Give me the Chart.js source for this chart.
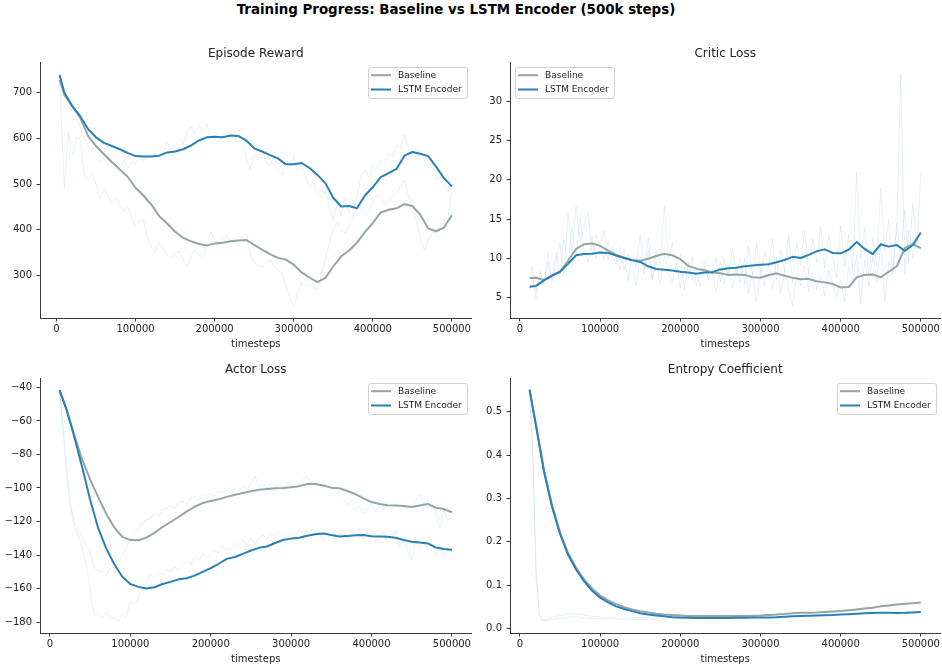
<!DOCTYPE html>
<html>
<head>
<meta charset="utf-8">
<script src="https://cdn.jsdelivr.net/npm/chart.js@4.4.1/dist/chart.umd.min.js"></script>
<style>
  html, body { margin: 0; padding: 0; background: #ffffff; }
  #page { position: relative; width: 942px; height: 667px; overflow: hidden; font-family: 'DejaVu Sans', sans-serif; }
  #suptitle { position: absolute; left: 0; top: 0; width: 912px; height: 20px; line-height: 20px; text-align: center;
              font-size: 13.4px; font-weight: bold; color: #000; }
  canvas { position: absolute; }
</style>
</head>
<body>
<div id="page">
  <div id="suptitle">Training Progress: Baseline vs LSTM Encoder (500k steps)</div>
  <canvas id="reward" width="490" height="312" style="left:0px;top:40px;"></canvas>
  <canvas id="critic" width="472" height="312" style="left:470px;top:40px;"></canvas>
  <canvas id="actor" width="490" height="311" style="left:0px;top:356px;"></canvas>
  <canvas id="entropy" width="472" height="311" style="left:470px;top:356px;"></canvas>
</div>
<script>
// ---- timestep grids (logging interval) ----
function stepGrid(first, start, step, end) {
  const s = [first];
  for (let t = start; t <= end; t += step) s.push(t);
  return s;
}
const rewardSmoothSteps = stepGrid(4000, 10000, 10000, 500000);
const rewardRawSteps = stepGrid(4000, 10000, 5000, 500000);
const lossSmoothSteps = stepGrid(12000, 20000, 10000, 500000);
const lossRawSteps = stepGrid(12000, 15000, 5000, 500000);
const entropyRawSteps = [12000, 16000, 20000, 24000, 28000, 32000, 40000, 50000, 60000, 70000, 80000, 90000,
  100000, 125000, 150000, 175000, 200000, 250000, 300000, 350000, 400000, 450000, 500000];

// ---- Episode Reward ----
const rewardLstmSmooth = [738, 700, 670, 648, 620, 602, 590, 583, 576, 568,
  561, 560, 560, 562, 569, 571, 576, 584, 595, 602,
  603, 602, 606, 605, 595, 578, 571, 563, 556, 543,
  543, 546, 535, 520, 502, 470, 451, 452, 447, 475,
  493, 515, 524, 533, 562, 570, 566, 561, 538, 513, 495];
const rewardBaseSmooth = [727, 695, 670, 645, 605, 583, 565, 548, 532, 516,
  492, 475, 455, 430, 414, 396, 383, 375, 369, 366,
  370, 372, 375, 377, 378, 367, 357, 347, 339, 335,
  324, 307, 296, 286, 295, 320, 342, 355, 372, 395,
  415, 438, 444, 447, 456, 452, 433, 403, 397, 405, 432];
const rewardLstmRaw = [740, 690, 675, 660, 645, 625, 600, 585, 572, 560,
  548, 556, 540, 558, 545, 535, 552, 532, 548, 545,
  560, 550, 566, 558, 572, 580, 568, 590, 578, 585,
  595, 588, 612, 625, 608, 630, 614, 632, 600, 604,
  612, 605, 618, 612, 608, 600, 590, 560, 532, 565,
  552, 575, 548, 540, 562, 528, 520, 545, 535, 560,
  530, 548, 515, 495, 505, 480, 470, 485, 445, 420,
  455, 430, 470, 435, 445, 470, 520, 530, 515, 540,
  530, 552, 545, 565, 560, 585, 575, 608, 578, 570,
  568, 575, 550, 535, 548, 510, 515, 498, 482, 500];
const rewardBaseRaw = [722, 492, 612, 565, 602, 598, 520, 508, 525, 500,
  468, 490, 475, 458, 470, 455, 440, 452, 428, 410,
  418, 422, 385, 362, 353, 372, 360, 345, 338, 348,
  353, 335, 322, 340, 358, 345, 342, 365, 396, 378,
  367, 380, 389, 376, 382, 375, 385, 393, 345, 330,
  322, 318, 330, 335, 320, 312, 306, 280, 255, 233,
  262, 284, 275, 280, 272, 269, 300, 335, 370, 400,
  415, 398, 393, 410, 429, 445, 451, 435, 440, 462,
  477, 470, 458, 465, 472, 480, 495, 509, 475, 451,
  420, 380, 357, 375, 393, 395, 407, 415, 429, 487];

// ---- Critic Loss ----
const criticLstmSmooth = [6.4, 6.5, 7.2, 7.8, 8.3, 9.3, 10.4, 10.55, 10.6, 10.75,
  10.7, 10.35, 10.05, 9.75, 9.55, 9.0, 8.65, 8.55, 8.45, 8.3,
  8.2, 8.05, 8.2, 8.25, 8.6, 8.75, 8.8, 9.0, 9.1, 9.2,
  9.25, 9.5, 9.8, 10.2, 10.05, 10.45, 10.9, 11.15, 10.7, 10.65,
  11.1, 12.1, 11.2, 10.55, 11.8, 11.5, 11.7, 10.95, 11.7, 13.3];
const criticBaseSmooth = [7.5, 7.55, 7.25, 7.8, 8.3, 9.7, 11.2, 11.8, 11.9, 11.6,
  11.0, 10.45, 10.1, 9.8, 9.7, 9.95, 10.3, 10.6, 10.4, 9.9,
  9.05, 8.7, 8.5, 8.2, 8.1, 7.9, 7.95, 7.9, 7.6, 7.55,
  7.85, 8.1, 7.8, 7.55, 7.35, 7.4, 7.1, 6.95, 6.75, 6.3,
  6.35, 7.6, 7.9, 7.95, 7.6, 8.3, 9.0, 11.3, 11.8, 11.3];
const criticLstmRaw = [6.0, 7.5, 5.8, 8.2, 6.9, 9.5, 7.4, 10.8, 8.0,
  12.5, 9.2, 14.0, 10.3, 15.2, 11.0, 9.5, 12.8, 10.0, 11.5,
  9.8, 12.0, 10.3, 9.2, 11.4, 8.5, 10.6, 9.0, 6.5, 10.2,
  8.0, 11.0, 7.2, 9.6, 6.8, 10.5, 8.2, 7.0, 9.4, 6.2,
  8.8, 7.5, 10.2, 6.5, 8.0, 9.6, 7.2, 8.6, 10.0, 7.0,
  9.8, 7.8, 11.2, 8.2, 10.0, 6.8, 11.6, 8.0, 12.0, 7.5,
  10.8, 9.0, 12.5, 7.2, 11.0, 8.5, 13.0, 7.0, 12.0, 9.2,
  13.5, 8.0, 12.5, 9.5, 14.0, 8.8, 13.0, 10.0, 7.5, 14.2,
  9.0, 13.0, 8.5, 21.0, 10.0, 14.0, 7.8, 12.5, 9.0, 18.9,
  11.0, 15.0, 8.2, 14.5, 10.0, 16.2, 9.5, 17.0, 11.5, 21.0];
const criticBaseRaw = [7.8, 9.0, 4.8, 8.5, 6.5, 10.8, 7.0, 9.5, 12.0,
  8.0, 15.9, 11.0, 16.6, 12.2, 14.0, 15.9, 10.5, 13.0, 11.8,
  13.5, 9.8, 11.5, 10.2, 8.5, 11.2, 7.0, 10.5, 9.0, 13.0,
  8.5, 12.5, 7.5, 11.0, 9.2, 16.6, 10.0, 12.0, 8.0, 10.5,
  6.0, 9.5, 7.2, 8.8, 6.4, 9.0, 7.5, 8.2, 5.8, 9.6,
  6.8, 8.5, 6.2, 9.0, 7.0, 10.0, 5.5, 8.2, 4.5, 8.8,
  6.5, 9.2, 6.0, 10.2, 5.6, 8.5, 6.2, 3.9, 8.0, 6.5,
  9.0, 5.8, 8.2, 6.0, 7.8, 5.2, 8.5, 6.8, 5.0, 7.2,
  4.5, 9.0, 6.8, 10.5, 4.2, 9.8, 6.5, 10.2, 7.0, 12.0,
  4.5, 9.5, 8.0, 14.0, 33.5, 8.0, 13.5, 10.0, 12.5, 11.0];

// ---- Actor Loss ----
const actorLstmSmooth = [-41.5, -52.5, -69, -87.5, -107, -124, -136, -145.5, -153, -157.3,
  -159, -160, -159.2, -157.3, -156, -154.5, -153.8, -152.3, -150, -147.8,
  -145.2, -142.3, -141.2, -139.3, -137.3, -135.7, -134.9, -132.8, -131, -130.2,
  -129.7, -128.5, -127.6, -127.2, -128.1, -129, -128.6, -128.2, -128.1, -128.8,
  -129, -129.1, -129.7, -131, -132.1, -132.5, -133.1, -135.5, -136.4, -136.9];
const actorBaseSmooth = [-42.5, -52, -68, -83, -95, -105.5, -115.5, -123.5, -129.2, -131.1,
  -131.2, -129.6, -126.8, -123.3, -120.3, -117.3, -114.1, -111.2, -109, -107.8,
  -106.7, -105.3, -104, -103, -102, -101.1, -100.6, -100.2, -100, -99.5,
  -98.9, -97.6, -97.6, -98.5, -99.8, -100.2, -101.8, -103.7, -106.2, -108.4,
  -109.6, -110.3, -110.5, -110.8, -111.3, -110.4, -109.5, -111.8, -112.6, -114.5];
const actorLstmRaw = [-42, -60, -88, -110, -122, -128, -136, -146, -160,
  -176, -175, -178, -174, -178, -177, -180, -175, -177, -168,
  -169, -166, -160, -156, -152, -154, -150, -152, -148, -150,
  -147, -149, -146, -144, -146, -141, -143, -139, -141, -140,
  -137, -139, -134, -136, -137, -133, -135, -131, -134, -130,
  -133, -130, -128, -131, -127, -129, -126, -130, -128, -126,
  -129, -125, -128, -126, -130, -125, -127, -131, -126, -129,
  -131, -127, -125, -130, -126, -129, -124, -131, -127, -125,
  -132, -128, -126, -133, -129, -125, -135, -131, -137, -143,
  -132, -136, -133, -137, -134, -139, -135, -141, -137, -139];
const actorBaseRaw = [-42, -58, -80, -108, -120, -124, -130, -135, -138,
  -147, -150, -150, -152, -148, -151, -145, -140, -136, -130,
  -127, -124, -121, -119, -118, -115, -117, -113, -112, -110,
  -112, -109, -108, -110, -106, -105, -107, -104, -105, -103,
  -105, -102, -103, -101, -103, -100, -102, -99, -101, -97,
  -93, -99, -98, -100, -97, -99, -98, -100, -97, -99,
  -96, -98, -95, -93, -97, -99, -98, -100, -99, -101,
  -100, -104, -107, -110, -108, -113, -111, -115, -112, -110,
  -114, -111, -113, -110, -112, -111, -113, -111, -112, -110,
  -108, -104, -110, -112, -109, -114, -124, -113, -119, -118];

// ---- Entropy Coefficient ----
const entropyLstmSmooth = [0.551, 0.468, 0.362, 0.281, 0.218, 0.17, 0.136, 0.109, 0.087, 0.071,
  0.06, 0.051, 0.045, 0.04, 0.035, 0.032, 0.03, 0.028, 0.026, 0.025,
  0.0245, 0.024, 0.024, 0.024, 0.024, 0.024, 0.0245, 0.0248, 0.025, 0.0252,
  0.0255, 0.026, 0.027, 0.028, 0.029, 0.0295, 0.03, 0.0305, 0.031, 0.032,
  0.033, 0.034, 0.035, 0.0355, 0.036, 0.036, 0.0355, 0.036, 0.037, 0.0378];
const entropyBaseSmooth = [0.551, 0.47, 0.365, 0.285, 0.222, 0.174, 0.14, 0.113, 0.092, 0.076,
  0.065, 0.056, 0.049, 0.044, 0.04, 0.037, 0.034, 0.032, 0.031, 0.03,
  0.029, 0.0285, 0.0285, 0.0285, 0.0285, 0.0285, 0.029, 0.029, 0.0295, 0.03,
  0.031, 0.032, 0.0335, 0.035, 0.036, 0.0365, 0.037, 0.038, 0.039, 0.04,
  0.042, 0.044, 0.046, 0.048, 0.051, 0.053, 0.055, 0.057, 0.058, 0.06];
const entropyLstmRaw = [0.551, 0.40, 0.12, 0.03, 0.018, 0.017, 0.02, 0.024, 0.026, 0.027, 0.025, 0.023,
  0.022, 0.021, 0.021, 0.022, 0.023, 0.024, 0.025, 0.029, 0.032, 0.036, 0.038];
const entropyBaseRaw = [0.551, 0.42, 0.14, 0.035, 0.02, 0.02, 0.025, 0.03, 0.033, 0.034, 0.031, 0.028,
  0.026, 0.024, 0.025, 0.026, 0.028, 0.028, 0.03, 0.036, 0.04, 0.051, 0.06];

// ---- tick labels ----
const xTicks = [0, 100000, 200000, 300000, 400000, 500000];
const rewardTicks = [300, 400, 500, 600, 700];
const criticTicks = [5, 10, 15, 20, 25, 30];
const actorTicks = [-180, -160, -140, -120, -100, -80, -60, -40];
const entropyTicks = [0.0, 0.1, 0.2, 0.3, 0.4, 0.5];

// ---- styling ----
const FONT = "'DejaVu Sans', sans-serif";
const TEXT = '#222222';
const SPINE = '#3a3a3a';
const BASE_COLOR = '#95a5a6';
const LSTM_COLOR = '#2980b9';
const RAW_COLOR = 'rgba(41,128,185,0.14)';

function points(steps, values) {
  return values.map((v, i) => ({ x: steps[i], y: v }));
}

function fmtNum(v, decimals) {
  const s = decimals ? Math.abs(v).toFixed(decimals) : String(Math.abs(v));
  return v < 0 ? '\u2212' + s : s;
}

// legend box drawn inside the plotting area (entries in legendRank order)
const legendBox = {
  id: 'legendBox',
  afterDatasetsDraw(chart, args, opts) {
    const { ctx, chartArea: a } = chart;
    const items = chart.data.datasets.filter(d => d.legendRank !== undefined)
      .sort((p, q) => p.legendRank - q.legendRank);
    const w = 99, h = 31;
    const x = Math.round(opts.corner === 'left' ? a.left + 4.5 : a.right - 4.8 - w);
    const y = Math.round(a.top + 5);
    ctx.save();
    ctx.beginPath();
    ctx.roundRect(x + 0.5, y + 0.5, w, h, 2.5);
    ctx.fillStyle = 'rgba(255,255,255,0.8)';
    ctx.fill();
    ctx.strokeStyle = 'rgba(204,204,204,0.9)';
    ctx.lineWidth = 1;
    ctx.stroke();
    ctx.font = '9px ' + FONT;
    ctx.textBaseline = 'middle';
    ctx.textAlign = 'left';
    items.forEach((d, i) => {
      const yy = y + 8.2 + i * 14.3;
      ctx.beginPath();
      ctx.moveTo(x + 3, yy);
      ctx.lineTo(x + 23, yy);
      ctx.strokeStyle = d.borderColor;
      ctx.lineWidth = 2;
      ctx.stroke();
      ctx.fillStyle = TEXT;
      ctx.fillText(d.label, x + 30, yy + 0.5);
    });
    ctx.restore();
  }
};

function makeChart(id, cfg) {
  const ds = [
    { label: 'LSTM Encoder', legendRank: 1, data: points(cfg.smoothSteps, cfg.lstm),
      borderColor: LSTM_COLOR, borderWidth: 2, order: 0 },
    { label: 'Baseline', legendRank: 0, data: points(cfg.smoothSteps, cfg.base),
      borderColor: BASE_COLOR, borderWidth: 2, order: 1 },
    { label: 'LSTM Encoder (raw)', data: points(cfg.rawSteps, cfg.lstmRaw),
      borderColor: RAW_COLOR, borderWidth: 0.8, order: 2 },
    { label: 'Baseline (raw)', data: points(cfg.rawSteps, cfg.baseRaw),
      borderColor: RAW_COLOR, borderWidth: 0.8, order: 3 }
  ];
  ds.forEach(d => { d.pointRadius = 0; d.fill = false; d.tension = 0; d.borderJoinStyle = 'round'; });

  return new Chart(document.getElementById(id), {
    type: 'line',
    data: { datasets: ds },
    plugins: [legendBox],
    options: {
      responsive: false,
      animation: false,
      devicePixelRatio: 1,
      layout: { padding: { left: 0, top: 0, bottom: 0, right: cfg.padRight } },
      plugins: {
        legend: { display: false },
        tooltip: { enabled: false },
        legendBox: { corner: cfg.legendCorner },
        title: {
          display: true, text: cfg.title, fullSize: false, color: TEXT,
          font: { family: FONT, size: 12, weight: 'normal', lineHeight: 1.2 },
          padding: { top: 7, bottom: 0.6 }
        }
      },
      scales: {
        x: {
          type: 'linear', min: cfg.xMin, max: cfg.xMax,
          afterBuildTicks: s => { s.ticks = xTicks.map(v => ({ value: v })); },
          afterFit: s => { s.height = 34; },
          ticks: { color: TEXT, font: { family: FONT, size: 10, lineHeight: 1.2 }, padding: 2,
                   maxRotation: 0, autoSkip: false, callback: v => String(v) },
          grid: { display: true, drawOnChartArea: false, drawTicks: true, tickLength: 3.5, color: SPINE, lineWidth: 1 },
          border: { display: true, color: SPINE, width: 1 },
          title: { display: true, text: 'timesteps', color: TEXT,
                   font: { family: FONT, size: 10, lineHeight: 1.2 }, padding: { top: 0, bottom: 2 } }
        },
        y: {
          type: 'linear', min: cfg.yMin, max: cfg.yMax,
          afterBuildTicks: s => { s.ticks = cfg.yTicks.map(v => ({ value: v })); },
          afterFit: s => { s.width = 40; },
          ticks: { color: TEXT, font: { family: FONT, size: 10 }, padding: 4.5, autoSkip: false,
                   callback: v => fmtNum(v, cfg.decimals) },
          grid: { display: true, drawOnChartArea: false, drawTicks: true, tickLength: 3.5, color: SPINE, lineWidth: 1 },
          border: { display: true, color: SPINE, width: 1 }
        }
      }
    }
  });
}

makeChart('reward', {
  title: 'Episode Reward', legendCorner: 'right', padRight: 18.5,
  smoothSteps: rewardSmoothSteps, rawSteps: rewardRawSteps,
  lstm: rewardLstmSmooth, base: rewardBaseSmooth, lstmRaw: rewardLstmRaw, baseRaw: rewardBaseRaw,
  xMin: -20800, xMax: 524800, yMin: 207.6, yMax: 766.4, yTicks: rewardTicks, decimals: 0
});
makeChart('critic', {
  title: 'Critic Loss', legendCorner: 'left', padRight: 0.5,
  smoothSteps: lossSmoothSteps, rawSteps: lossRawSteps,
  lstm: criticLstmSmooth, base: criticBaseSmooth, lstmRaw: criticLstmRaw, baseRaw: criticBaseRaw,
  xMin: -12400, xMax: 524400, yMin: 2.42, yMax: 34.98, yTicks: criticTicks, decimals: 0
});
makeChart('actor', {
  title: 'Actor Loss', legendCorner: 'right', padRight: 18.5,
  smoothSteps: lossSmoothSteps, rawSteps: lossRawSteps,
  lstm: actorLstmSmooth, base: actorBaseSmooth, lstmRaw: actorLstmRaw, baseRaw: actorBaseRaw,
  xMin: -12400, xMax: 524400, yMin: -186.5, yMax: -34.4, yTicks: actorTicks, decimals: 0
});
makeChart('entropy', {
  title: 'Entropy Coefficient', legendCorner: 'right', padRight: 0.5,
  smoothSteps: lossSmoothSteps, rawSteps: entropyRawSteps,
  lstm: entropyLstmSmooth, base: entropyBaseSmooth, lstmRaw: entropyLstmRaw, baseRaw: entropyBaseRaw,
  xMin: -12400, xMax: 524400, yMin: -0.0105, yMax: 0.578, yTicks: entropyTicks, decimals: 1
});
</script>
</body>
</html>
